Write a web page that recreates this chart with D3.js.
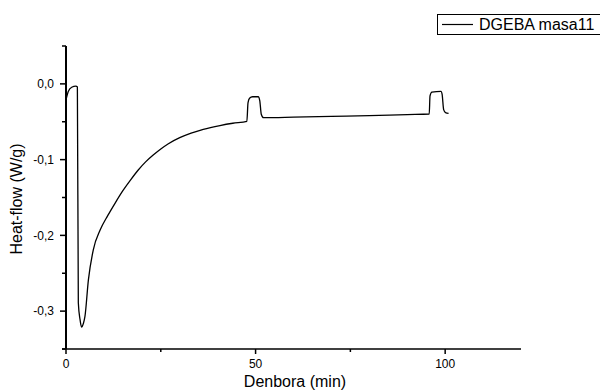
<!DOCTYPE html>
<html>
<head>
<meta charset="utf-8">
<script src="https://cdn.jsdelivr.net/npm/d3@7"></script>
<style>
  body { margin: 0; background: #fff; }
  text { font-family: "Liberation Sans", Arial, sans-serif; fill: #000; }
</style>
</head>
<body>
<script>
// Time (min) and heat flow (W/g)
var time = [0, 0.6, 1.5, 2.6, 3.0, 3.25, 3.7, 4.1, 4.6, 5.0, 5.9, 7.2, 9.0, 11, 13, 15,
  17, 19, 21, 23, 25, 27, 30, 33, 36.2, 40.6, 44.0, 47.7, 48.0, 48.4, 49.2, 50.7, 51.1,
  51.5, 52.1, 60, 70, 80, 90, 95.8, 96.0, 96.5, 98.9, 99.2, 99.6, 100.1, 100.9];
var heatFlow = [-0.021, -0.010, -0.0045, -0.003, -0.004, -0.289, -0.311, -0.321, -0.316, -0.307,
  -0.259, -0.219, -0.193, -0.174, -0.157, -0.141, -0.127, -0.114, -0.103, -0.094, -0.086,
  -0.079, -0.071, -0.065, -0.060, -0.055, -0.052, -0.0495, -0.025, -0.019, -0.017, -0.017,
  -0.022, -0.040, -0.0446, -0.0440, -0.0430, -0.0420, -0.0405, -0.0398, -0.016, -0.011,
  -0.010, -0.014, -0.034, -0.038, -0.039];

var xMajor = [0, 50, 100];
var xMinor = [25, 75];
var yMajor = [0, -0.1, -0.2, -0.3];
var yMinor = [0.05, -0.05, -0.15, -0.25, -0.35];
var seriesName = "DGEBA masa11";

var data = time.map(function(t, i) { return { t: t, v: heatFlow[i] }; });

var width = 600, height = 391;

var svg = d3.select("body")
    .append("svg")
    .attr("width", width)
    .attr("height", height);

var xScale = d3.scaleLinear().domain([0, 120]).range([66, 521]);
var yScale = d3.scaleLinear().domain([-0.35, 0.05]).range([349, 46]);

var fmt = function(d) { return d3.format(".1f")(d).replace(".", ",").replace("−", "-"); };

// X axis
var xAxis = svg.append("g")
    .attr("transform", "translate(0," + yScale(-0.35) + ")");
xAxis.append("line")
    .attr("x1", 62).attr("x2", xScale(120))
    .attr("stroke", "#000").attr("stroke-width", 1.5);
xAxis.selectAll(".xmaj")
    .data(xMajor).enter().append("line")
    .attr("x1", d => xScale(d)).attr("x2", d => xScale(d))
    .attr("y1", 0).attr("y2", 5)
    .attr("stroke", "#000").attr("stroke-width", 1.5);
xAxis.selectAll(".xmin")
    .data(xMinor).enter().append("line")
    .attr("x1", d => xScale(d)).attr("x2", d => xScale(d))
    .attr("y1", 0).attr("y2", 3)
    .attr("stroke", "#000").attr("stroke-width", 1.5);
xAxis.selectAll(".xlab")
    .data(xMajor).enter().append("text")
    .attr("x", d => xScale(d))
    .attr("y", 19)
    .attr("text-anchor", "middle")
    .style("font-size", "12px")
    .text(d => d);

// Y axis
var yAxis = svg.append("g")
    .attr("transform", "translate(" + xScale(0) + ",0)");
yAxis.append("line")
    .attr("y1", yScale(0.05)).attr("y2", yScale(-0.35))
    .attr("stroke", "#000").attr("stroke-width", 2);
yAxis.selectAll(".ymaj")
    .data(yMajor).enter().append("line")
    .attr("y1", d => yScale(d)).attr("y2", d => yScale(d))
    .attr("x1", 0).attr("x2", -6)
    .attr("stroke", "#000").attr("stroke-width", 1.5);
yAxis.selectAll(".ymin")
    .data(yMinor).enter().append("line")
    .attr("y1", d => yScale(d)).attr("y2", d => yScale(d))
    .attr("x1", 0).attr("x2", -4)
    .attr("stroke", "#000").attr("stroke-width", 1.5);
yAxis.selectAll(".ylab")
    .data(yMajor).enter().append("text")
    .attr("x", -12)
    .attr("y", d => yScale(d))
    .attr("dy", "0.35em")
    .attr("text-anchor", "end")
    .style("font-size", "12px")
    .text(fmt);

// Axis titles
svg.append("text")
    .attr("x", 295)
    .attr("y", 387)
    .attr("text-anchor", "middle")
    .style("font-size", "16px")
    .text("Denbora (min)");

svg.append("text")
    .attr("transform", "translate(22,199) rotate(-90)")
    .attr("text-anchor", "middle")
    .style("font-size", "16px")
    .text("Heat-flow (W/g)");

// Curve
var valueline = d3.line()
    .x(d => xScale(d.t))
    .y(d => yScale(d.v))
    .curve(d3.curveMonotoneX);

svg.append("path")
    .datum(data)
    .attr("d", valueline)
    .attr("fill", "none")
    .attr("stroke", "#000")
    .attr("stroke-width", 1.3);

// Legend
var legend = svg.append("g");
legend.append("rect")
    .attr("x", 437.5).attr("y", 14.5)
    .attr("width", 170).attr("height", 20)
    .attr("fill", "#fff")
    .attr("stroke", "#000").attr("stroke-width", 1);
legend.append("line")
    .attr("x1", 442).attr("x2", 473)
    .attr("y1", 24.5).attr("y2", 24.5)
    .attr("stroke", "#000").attr("stroke-width", 1.2);
legend.append("text")
    .attr("x", 479).attr("y", 30)
    .style("font-size", "16px")
    .text(seriesName);
</script>
</body>
</html>
